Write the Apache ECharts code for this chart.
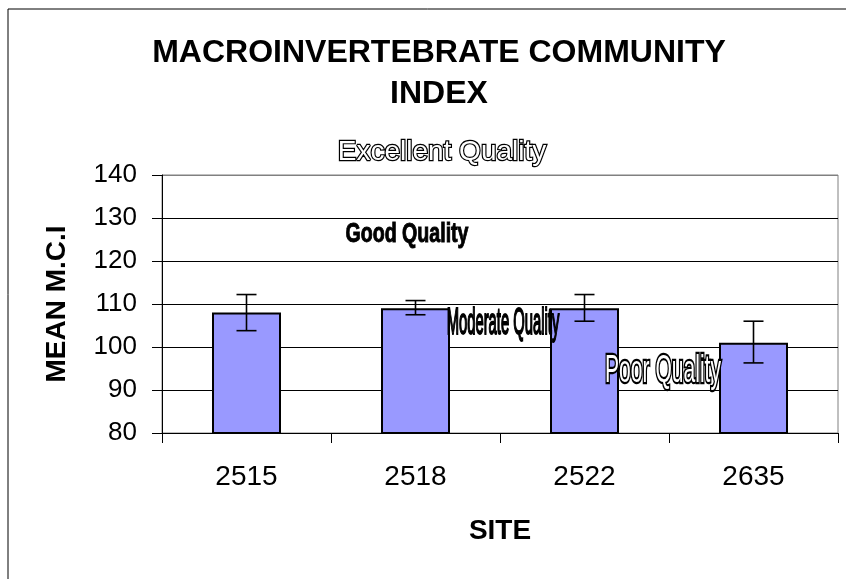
<!DOCTYPE html>
<html>
<head>
<meta charset="utf-8">
<script src="https://cdn.jsdelivr.net/npm/echarts@6/dist/echarts.min.js"></script>
<style>
html,body{margin:0;padding:0;background:#fff;}
#chart{width:846px;height:579px;}
</style>
</head>
<body>
<div id="chart"></div>
<script>
const sites = ['2515', '2518', '2522', '2635'];
const meanMCI = [108, 109, 109, 101];
const errLow = [103.8, 107.5, 106, 96.3];
const errHigh = [112.2, 110.8, 112.2, 106];
const yTicks = [80, 90, 100, 110, 120, 130, 140];

const FONT = '"Liberation Sans", Arial, sans-serif';
const chart = echarts.init(document.getElementById('chart'));

const errData = sites.map((s, i) => [i, errLow[i], errHigh[i]]);

chart.setOption({
  animation: false,
  backgroundColor: '#fff',
  textStyle: { fontFamily: FONT },
  title: {
    text: 'MACROINVERTEBRATE COMMUNITY\nINDEX',
    left: 434, top: 28, textAlign: 'center',
    textStyle: { fontFamily: FONT, fontSize: 32, fontWeight: 'bold', color: '#000', lineHeight: 41 }
  },
  grid: { left: 162, right: 8, top: 175, bottom: 146, show: true, borderColor: '#808080', borderWidth: 1, backgroundColor: '#fff' },
  xAxis: {
    type: 'category', data: sites,
    name: 'SITE', nameLocation: 'middle', nameGap: 84,
    nameTextStyle: { fontFamily: FONT, fontSize: 28, fontWeight: 'bold', color: '#000' },
    axisLine: { lineStyle: { color: '#000', width: 1 } },
    axisTick: { show: true, length: 10, lineStyle: { color: '#000' } },
    axisLabel: { fontFamily: FONT, fontSize: 28, color: '#000', margin: 30 }
  },
  yAxis: {
    type: 'value', min: yTicks[0], max: yTicks[yTicks.length - 1], interval: 10,
    name: 'MEAN M.C.I', nameLocation: 'middle', nameGap: 91, nameRotate: 90,
    nameTextStyle: { fontFamily: FONT, fontSize: 28, fontWeight: 'bold', color: '#000' },
    axisLine: { show: true, lineStyle: { color: '#000', width: 1 } },
    axisTick: { show: true, length: 10, lineStyle: { color: '#000' } },
    axisLabel: { fontFamily: FONT, fontSize: 26, color: '#000', margin: 25 },
    splitLine: { show: true, lineStyle: { color: ['#000', '#000', '#000', '#000', '#000', '#000', '#808080'], width: 1 } }
  },
  series: [
    {
      type: 'bar', data: meanMCI, barWidth: 69,
      itemStyle: { color: '#9999ff', borderColor: '#000', borderWidth: 2 }
    },
    {
      type: 'custom', data: errData,
      encode: { x: 0, y: [1, 2] },
      renderItem: function (params, api) {
        const x = api.value(0);
        const lo = api.coord([x, api.value(1)]);
        const hi = api.coord([x, api.value(2)]);
        const w = 10;
        const st = { stroke: '#000', lineWidth: 1.6 };
        return {
          type: 'group',
          children: [
            { type: 'line', shape: { x1: lo[0], y1: lo[1], x2: hi[0], y2: hi[1] }, style: st },
            { type: 'line', shape: { x1: lo[0] - w, y1: lo[1], x2: lo[0] + w, y2: lo[1] }, style: st },
            { type: 'line', shape: { x1: hi[0] - w, y1: hi[1], x2: hi[0] + w, y2: hi[1] }, style: st }
          ]
        };
      },
      z: 5
    }
  ],
  graphic: [
    { type: 'rect', shape: { x: 8, y: 9, width: 900, height: 700 }, style: { fill: 'none', stroke: '#000', lineWidth: 1 }, silent: true },
    { type: 'text', x: 442, y: 152, z: 100,
      style: { text: 'Excellent Quality', x: 0, y: 0, align: 'center', verticalAlign: 'middle',
        font: '28px ' + FONT, fill: '#fff', stroke: '#000', lineWidth: 2.4 } },
    { type: 'text', x: 407, y: 234, scaleX: 0.7, z: 100,
      style: { text: 'Good Quality', x: 0, y: 0, align: 'center', verticalAlign: 'middle',
        font: 'bold 28px ' + FONT, fill: '#000', stroke: '#000', lineWidth: 1 } },
    { type: 'text', x: 503, y: 324, scaleX: 0.4, z: 100,
      style: { text: 'Moderate Quality', x: 0, y: 0, align: 'center', verticalAlign: 'middle',
        font: '37px ' + FONT, fill: '#000', stroke: '#000', lineWidth: 2 } },
    { type: 'text', x: 663, y: 371, scaleX: 0.54, z: 100,
      style: { text: 'Poor Quality', x: 0, y: 0, align: 'center', verticalAlign: 'middle',
        font: '39px ' + FONT, fill: '#fff', stroke: '#000', lineWidth: 4.5 } }
  ]
});
</script>
</body>
</html>
